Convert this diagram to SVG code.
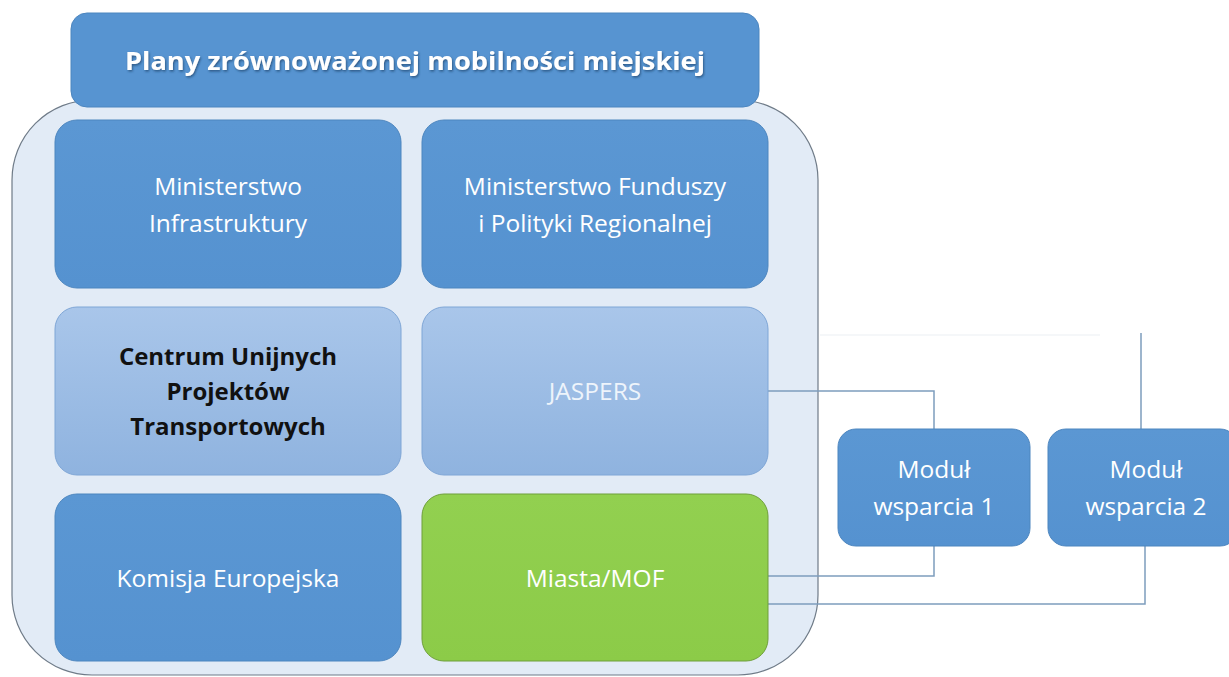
<svg xmlns="http://www.w3.org/2000/svg" width="1229" height="677" viewBox="0 0 1229 677">
<defs>
<linearGradient id="gBlue" x1="0" y1="0" x2="0" y2="1">
<stop offset="0" stop-color="#5b97d3"/><stop offset="1" stop-color="#5592d0"/>
</linearGradient>
<linearGradient id="gLight" x1="0" y1="0" x2="0" y2="1">
<stop offset="0" stop-color="#a9c6ea"/><stop offset="1" stop-color="#8fb3df"/>
</linearGradient>
<linearGradient id="gGreen" x1="0" y1="0" x2="0" y2="1">
<stop offset="0" stop-color="#92d050"/><stop offset="1" stop-color="#8ccb48"/>
</linearGradient>
<filter id="ts" x="-5%" y="-20%" width="110%" height="150%">
<feDropShadow dx="1" dy="1.5" stdDeviation="0.8" flood-color="#1f3f66" flood-opacity="0.7"/>
</filter>
</defs>
<style>
.blue{fill:url(#gBlue);stroke:#4d86bf;stroke-width:1}
.light{fill:url(#gLight);stroke:#7fa6d6;stroke-width:1}
.green{fill:url(#gGreen);stroke:#6f9f3a;stroke-width:1}
.t{font-family:"Open Sans","Liberation Sans",sans-serif;font-size:24.5px;fill:#ffffff;text-anchor:middle}
.tb{font-family:"Open Sans","Liberation Sans",sans-serif;font-size:24px;font-weight:bold;fill:#111111;text-anchor:middle}
.conn{fill:none;stroke:#7d9dbd;stroke-width:1.5}
</style>
<rect width="1229" height="677" fill="#ffffff"/>
<g id="container">
<rect x="12" y="100" width="806" height="575" rx="80" ry="80" fill="#e2ebf6" stroke="#6f7b88" stroke-width="1.2"/>
</g>
<g id="title">
<rect x="71" y="13" width="688" height="94" rx="16" fill="#5794d1" stroke="#4d86bf"/>
<text x="415" y="70" text-anchor="middle" font-family="'Open Sans','Liberation Sans',sans-serif" font-size="25" font-weight="bold" fill="#ffffff" filter="url(#ts)" textLength="580" lengthAdjust="spacingAndGlyphs">Plany zrównoważonej mobilności miejskiej</text>
</g>
<g id="connectors">
<polyline class="conn" points="768,391 934,391 934,429"/>
<polyline class="conn" points="768,576 934,576 934,546"/>
<polyline class="conn" points="768,604 1145,604 1145,546"/>
<line class="conn" x1="1141" y1="333" x2="1141" y2="429"/>
<line x1="820" y1="335" x2="1100" y2="335" stroke="#f2f4f7" stroke-width="1.5"/>
</g>
<g id="n-mi">
<rect class="blue" x="55" y="120" width="346" height="168" rx="22"/>
<text class="t" x="228" y="195">Ministerstwo</text>
<text class="t" x="228" y="232">Infrastruktury</text>
</g>
<g id="n-mf">
<rect class="blue" x="422" y="120" width="346" height="168" rx="22"/>
<text class="t" x="595" y="195">Ministerstwo Funduszy</text>
<text class="t" x="595" y="232">i Polityki Regionalnej</text>
</g>
<g id="n-cupt">
<rect class="light" x="55" y="307" width="346" height="168" rx="22"/>
<text class="tb" x="228" y="365">Centrum Unijnych</text>
<text class="tb" x="228" y="400">Projektów</text>
<text class="tb" x="228" y="435">Transportowych</text>
</g>
<g id="n-jaspers">
<rect class="light" x="422" y="307" width="346" height="168" rx="22"/>
<text class="t" x="595" y="400" style="fill:#eef4fb">JASPERS</text>
</g>
<g id="n-ke">
<rect class="blue" x="55" y="494" width="346" height="167" rx="22"/>
<text class="t" x="228" y="587">Komisja Europejska</text>
</g>
<g id="n-miasta">
<rect class="green" x="422" y="494" width="346" height="167" rx="22"/>
<text class="t" x="595" y="587">Miasta/MOF</text>
</g>
<g id="n-m1">
<rect class="blue" x="838" y="429" width="192" height="117" rx="18"/>
<text class="t" x="934" y="478">Moduł</text>
<text class="t" x="934" y="515">wsparcia 1</text>
</g>
<g id="n-m2">
<rect class="blue" x="1048" y="429" width="190" height="117" rx="18"/>
<text class="t" x="1146" y="478">Moduł</text>
<text class="t" x="1146" y="515">wsparcia 2</text>
</g>
</svg>
